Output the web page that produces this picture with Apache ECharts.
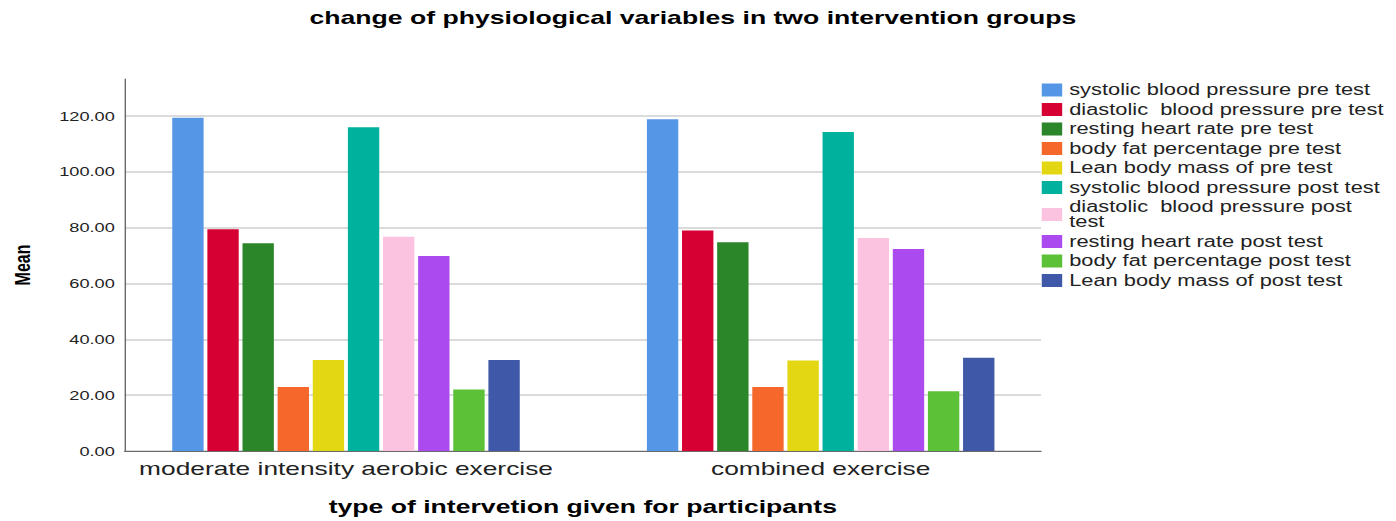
<!DOCTYPE html>
<html>
<head>
<meta charset="utf-8">
<title>change of physiological variables in two intervention groups</title>
<script src="https://cdn.jsdelivr.net/npm/echarts@6/dist/echarts.min.js"></script>
<style>
  html, body { margin: 0; padding: 0; background: #ffffff; overflow: hidden; width: 1396px; height: 521px; }
  /* the chart is laid out on a narrower canvas and widened to the page width */
  #chart { width: 997px; height: 521px; transform: scaleX(1.4002); transform-origin: 0 0; }
</style>
</head>
<body>
<div id="chart"></div>
<script>
// intervention groups (x positions 0 and 1)
const categories = ['moderate intensity aerobic exercise', 'combined exercise'];

// group means, one value per intervention group
const systolicPre   = [119.4, 118.9];
const diastolicPre  = [79.5, 79.0];
const heartRatePre  = [74.4, 74.8];
const bodyFatPre    = [22.9, 22.9];
const leanMassPre   = [32.6, 32.4];
const systolicPost  = [116.0, 114.3];
const diastolicPost = [76.8, 76.3];
const heartRatePost = [69.9, 72.4];
const bodyFatPost   = [22.0, 21.4];
const leanMassPost  = [32.6, 33.4];

const seriesNames = [
  'systolic blood pressure pre test',
  'diastolic  blood pressure pre test',
  'resting heart rate pre test',
  'body fat percentage pre test',
  'Lean body mass of pre test',
  'systolic blood pressure post test',
  'diastolic  blood pressure post test',
  'resting heart rate post test',
  'body fat percentage post test',
  'Lean body mass of post test'
];
const seriesValues = [
  systolicPre, diastolicPre, heartRatePre, bodyFatPre, leanMassPre,
  systolicPost, diastolicPost, heartRatePost, bodyFatPost, leanMassPost
];
const seriesColors = [
  '#5596e6', '#d70033', '#2b8529', '#f5672b', '#e2d712',
  '#00b19d', '#fcc3e1', '#aa4aef', '#5cc136', '#3f59a8'
];

// y axis ticks
const yTicks = [0, 20, 40, 60, 80, 100, 120];

const FONT = "'Liberation Sans', Arial, Helvetica, sans-serif";
const chart = echarts.init(document.getElementById('chart'), null, { renderer: 'svg' });

chart.setOption({
  backgroundColor: '#ffffff',
  animation: false,
  title: {
    text: 'change of physiological variables in two intervention groups',
    left: 221,
    top: 7.5,
    padding: 0,
    textStyle: { fontFamily: FONT, fontSize: 19, fontWeight: 'bold', color: '#000000' }
  },
  legend: {
    orient: 'vertical',
    left: 744,
    top: 82,
    padding: 0,
    itemWidth: 14.6,
    itemHeight: 13,
    itemGap: 3.5,
    icon: 'rect',
    selectedMode: false,
    data: seriesNames,
    formatter: function (name) {
      return name === 'diastolic  blood pressure post test'
        ? 'diastolic  blood pressure post\ntest' : name;
    },
    textStyle: { fontFamily: FONT, fontSize: 15.6, lineHeight: 15, color: '#222222' }
  },
  grid: { left: 87.14, right: 253.5, top: 79, bottom: 70, containLabel: false },
  xAxis: {
    type: 'value',
    min: -0.4664,
    max: 1.4643,
    name: 'type of intervetion given for participants',
    nameLocation: 'middle',
    nameGap: 46,
    nameTextStyle: { fontFamily: FONT, fontSize: 19, fontWeight: 'bold', color: '#000000' },
    axisLine: { show: true, onZero: false, lineStyle: { color: '#6a6a6a', width: 1.2 } },
    axisTick: { show: false },
    splitLine: { show: false },
    axisLabel: {
      customValues: categories.map(function (c, i) { return i; }),
      formatter: function (v) { return categories[Math.round(v)]; },
      margin: 8,
      fontFamily: FONT,
      fontSize: 18.8,
      color: '#222222'
    }
  },
  yAxis: {
    type: 'value',
    min: 0,
    max: 133.3,
    interval: 20,
    name: 'Mean',
    nameLocation: 'middle',
    nameGap: 65,
    nameTextStyle: { fontFamily: FONT, fontSize: 16, fontWeight: 'bold', color: '#000000' },
    axisLine: { show: true, onZero: false, lineStyle: { color: '#6a6a6a', width: 1 } },
    axisTick: { show: false },
    axisLabel: {
      customValues: yTicks,
      formatter: function (v) { return v.toFixed(2); },
      margin: 7,
      fontFamily: FONT,
      fontSize: 13,
      color: '#222222'
    },
    splitLine: { show: true, showMaxLine: false, lineStyle: { color: '#cfcfcf', width: 1.5 } }
  },
  series: seriesNames.map(function (name, k) {
    return {
      name: name,
      type: 'bar',
      barWidth: 22.4,
      barGap: '12%',
      itemStyle: { color: seriesColors[k] },
      data: seriesValues[k].map(function (v, i) { return [i, v]; })
    };
  })
});
</script>
</body>
</html>
